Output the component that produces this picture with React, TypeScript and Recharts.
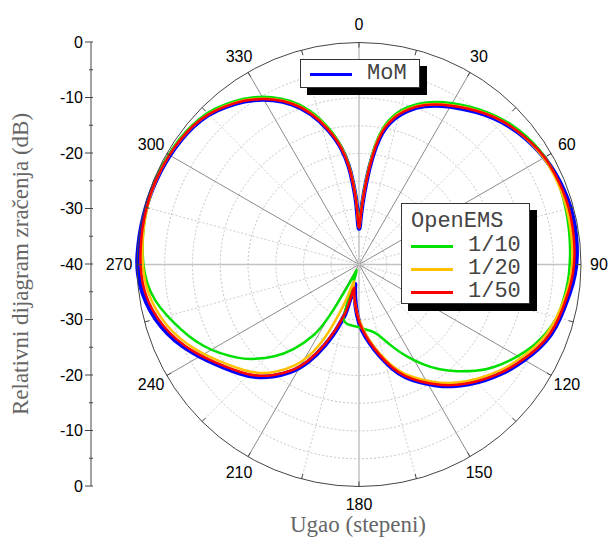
import React from "react"
import {
  RadarChart,
  Radar,
  PolarGrid,
  PolarAngleAxis,
  PolarRadiusAxis,
  Legend,
  LineChart,
  XAxis,
  YAxis,
} from "recharts"

// uglovi u stepenima (gusce oko nula)
const angles = [
  0, 2, 4, 6, 8, 10, 12,
  15, 20, 25, 30, 35, 40, 45, 50, 55, 60, 65, 70, 75, 80, 85, 90,
  95, 100, 105, 110, 115, 120, 125, 130, 135, 140, 145, 150, 155, 160, 165, 170, 175, 180, 185, 190,
  192, 195, 197, 200,
  205, 210, 215, 220, 225, 230, 235, 240, 245, 250, 255, 260, 265, 270, 275, 280, 285, 290, 295, 300,
  305, 310, 315, 320, 325, 330, 335, 340, 345, 350,
  353, 355, 357, 358, 360,
]

const mom = [
  -34.5, -31, -27, -22.5, -18.5, -15.7, -14.0,
  -12.0, -9.8, -8.3, -7.1, -5.9, -4.7, -3.6, -2.7, -2.0, -1.4, -1.0, -0.7, -0.5, -0.5, -0.6, -0.8,
  -1.3, -2.0, -2.5, -3.1, -4.2, -5.6, -6.9, -8.4, -9.9, -11.5, -13.2, -15.1, -17.0, -19.0, -21.8, -24.5, -27.0, -29.3, -32.5, -35.5,
  -37, -31, -29.5, -26.5,
  -22, -18.3, -15.7, -13.4, -11.6, -10.2, -8.6, -6.8, -5.0, -3.3, -2.0, -1.0, -0.3, 0, -0.1, -0.15, -0.25, -0.3, -0.45, -0.6,
  -0.8, -1.1, -1.7, -2.8, -4.0, -5.6, -7.5, -9.9, -13.2, -17.3,
  -20.5, -23.5, -27.5, -30, -34.5,
]

const oem10 = [
  -34.0, -30.3, -26.2, -21.6, -17.6, -14.9, -13.2,
  -11.2, -9.1, -7.6, -6.4, -5.2, -4.1, -3.1, -2.3, -1.7, -1.2, -1.1, -1.2, -1.4, -1.6, -1.8, -2.0,
  -2.2, -2.6, -3.0, -4.0, -5.3, -6.9, -8.6, -10.4, -12.7, -15.0, -17.3, -20.0, -22.5, -25.0, -27.0, -27.9, -28.3, -28.7, -28.9, -29.0,
  -29.1, -29.5, -30.2, -40,
  -37, -27, -22.5, -18.9, -16.1, -13.4, -11.3, -9.2, -7.4, -5.8, -4.2, -2.6, -1.6, -1.1, -0.8, -0.6, -0.4, -0.3, -0.3, -0.35,
  -0.5, -0.8, -1.3, -2.3, -3.5, -5.0, -6.9, -9.3, -12.6, -16.8,
  -20.0, -23.0, -27.0, -29.4, -34.0,
]

const oem20 = [
  -34.3, -30.7, -26.6, -22.0, -18.0, -15.3, -13.6,
  -11.6, -9.5, -8.0, -6.8, -5.6, -4.4, -3.4, -2.6, -2.0, -1.5, -1.3, -1.2, -1.2, -1.3, -1.4, -1.5,
  -1.9, -2.5, -3.1, -3.8, -4.9, -6.3, -7.6, -9.1, -10.6, -12.2, -13.9, -15.8, -17.7, -19.7, -22.4, -25.0, -27.5, -30.0, -32.5, -34.5,
  -35.2, -36.3, -37.2, -32,
  -24.5, -19.8, -16.9, -14.4, -12.5, -11.1, -9.5, -7.7, -5.9, -4.3, -3.0, -2.0, -1.3, -1.0, -0.8, -0.6, -0.45, -0.35, -0.4, -0.5,
  -0.7, -1.0, -1.6, -2.6, -3.8, -5.4, -7.3, -9.7, -13.0, -17.1,
  -20.3, -23.3, -27.2, -29.6, -34.3,
]

const oem50 = [
  -34.3, -30.8, -26.8, -22.3, -18.3, -15.5, -13.8,
  -11.8, -9.6, -8.1, -6.9, -5.7, -4.5, -3.4, -2.6, -1.9, -1.3, -1.1, -0.9, -0.8, -0.9, -1.0, -1.2,
  -1.6, -2.2, -2.7, -3.3, -4.4, -5.8, -7.1, -8.6, -10.1, -11.7, -13.4, -15.3, -17.2, -19.2, -22.0, -24.7, -27.2, -29.5, -32.5, -34.8,
  -36.3, -31.5, -30, -27,
  -22.4, -18.6, -16.0, -13.7, -11.9, -10.5, -8.9, -7.1, -5.3, -3.7, -2.4, -1.4, -0.8, -0.6, -0.5, -0.4, -0.35, -0.3, -0.4, -0.5,
  -0.7, -1.0, -1.6, -2.7, -3.9, -5.5, -7.4, -9.8, -13.1, -17.2,
  -20.4, -23.4, -27.4, -29.8, -34.3,
]

const angleTicks = [0, 30, 60, 90, 120, 150, 180, 210, 240, 270, 300, 330]
const minorTicks = [0, 15, 30, 45, 60, 75, 90, 105, 120, 135, 150, 165, 180, 195, 210, 225, 240, 255, 270, 285, 300, 315, 330, 345]
const cardinalSpokes = [0, 90, 180, 270]
const diagonalSpokes = [30, 60, 120, 150, 210, 240, 300, 330]
const halfSpokes = [15, 45, 75, 105, 135, 165, 195, 225, 255, 285, 315, 345]
const ringTicks = [-35, -30, -25, -20, -15, -10, -5]
const leftTicks = [-40, -35, -30, -25, -20, -15, -10, -5, 0, 5, 10, 15, 20, 25, 30, 35, 40]

const data = angles.map((a, i) => ({
  angle: a,
  mom: mom[i],
  oem10: oem10[i],
  oem20: oem20[i],
  oem50: oem50[i],
}))

const leftData = leftTicks.map((v) => ({ v }))

const sans = "'Liberation Sans', Arial, sans-serif"
const serif = "'Liberation Serif', 'Times New Roman', serif"
const mono = "'Liberation Mono', 'Courier New', monospace"

const AngleTick = ({ x, y, payload }: any) => (
  <text x={x} y={y} textAnchor="middle" dominantBaseline="central" fontSize={16} fontFamily={sans} fill="#000">
    {payload.value}
  </text>
)

const LeftTick = ({ x, y, payload }: any) => {
  const major = payload.value % 10 === 0
  return (
    <g>
      <line x1={x + (major ? 2 : 6)} x2={x + 10} y1={y} y2={y} stroke="#444" />
      {major && (
        <text x={x} y={y} textAnchor="end" dominantBaseline="central" fontSize={16} fontFamily={sans} fill="#000">
          {Math.abs(payload.value) - 40}
        </text>
      )}
    </g>
  )
}

// zaobljena zatvorena kriva kroz tacke koje daje Radar
const SmoothLoop = (props: any) => {
  const pts = (props.points || []).filter((p: any) => Number.isFinite(p.x) && Number.isFinite(p.y))
  if (pts.length < 3) return null
  const ring = pts.slice()
  const first = ring[0]
  const last = ring[ring.length - 1]
  if (Math.abs(first.x - last.x) < 0.01 && Math.abs(first.y - last.y) < 0.01) ring.pop()
  const n = ring.length
  const mid = (a: any, b: any) => [(a.x + b.x) / 2, (a.y + b.y) / 2]
  const start = mid(ring[n - 1], ring[0])
  let d = `M${start[0]},${start[1]}`
  for (let i = 0; i < n; i++) {
    const p = ring[i]
    const m = mid(p, ring[(i + 1) % n])
    d += ` Q${p.x},${p.y} ${m[0]},${m[1]}`
  }
  d += " Z"
  return <path d={d} fill="none" stroke={props.stroke} strokeWidth={props.strokeWidth} strokeLinejoin="round" />
}

const boxStyle: React.CSSProperties = {
  position: "absolute",
  background: "#fff",
  border: "1px solid #333",
  boxShadow: "7px 7px 0 #000",
  boxSizing: "border-box",
  fontFamily: mono,
  fontSize: 22,
  color: "#444",
}

const LegendRow = ({ color, label, top }: { color: string; label: string; top: number }) => (
  <div style={{ position: "absolute", left: 9, top, height: 24, display: "flex", alignItems: "center" }}>
    <span style={{ width: 42, height: 3, background: color, display: "inline-block" }} />
    <span style={{ marginLeft: 15, lineHeight: "24px" }}>{label}</span>
  </div>
)

const LegendBoxes = ({ payload }: any) => {
  const items = payload || []
  const ref = items.find((p: any) => p.dataKey === "mom")
  const sims = items.filter((p: any) => p.dataKey !== "mom")
  return (
    <div>
      {ref && (
        <div style={{ ...boxStyle, left: 300, top: 59, width: 120, height: 29 }}>
          <LegendRow color={ref.color} label={ref.value} top={2} />
        </div>
      )}
      <div style={{ ...boxStyle, left: 401, top: 203, width: 129, height: 101 }}>
        <div style={{ position: "absolute", left: 9, top: 6, lineHeight: "24px" }}>OpenEMS</div>
        {sims.map((p: any, i: number) => (
          <LegendRow key={p.dataKey} color={p.color} label={p.value} top={30 + i * 23} />
        ))}
      </div>
    </div>
  )
}

export default function App() {
  return (
    <div style={{ position: "absolute", left: 0, top: 0, width: 608, height: 542, background: "#fff" }}>
      <div style={{ position: "absolute", left: 0, top: 0 }}>
        <LineChart width={100} height={542} data={leftData} margin={{ top: 42, right: 9, bottom: 56, left: 0 }}>
          <XAxis hide />
          <YAxis
            dataKey="v"
            type="number"
            domain={[-40, 40]}
            allowDataOverflow
            ticks={leftTicks}
            interval={0}
            width={91}
            axisLine={{ stroke: "#444" }}
            tickLine={false}
            tick={<LeftTick />}
            label={({ viewBox }: any) => (
              <text
                x={27.5}
                y={viewBox.y + viewBox.height / 2}
                transform={`rotate(-90, 27.5, ${viewBox.y + viewBox.height / 2})`}
                textAnchor="middle"
                fontSize={23}
                fontFamily={serif}
                fill="#666"
              >
                Relativni dijagram zračenja (dB)
              </text>
            )}
          />
        </LineChart>
      </div>

      <div style={{ position: "absolute", left: 0, top: 0 }}>
        <RadarChart
          width={608}
          height={542}
          data={data}
          cx={359}
          cy={264.5}
          innerRadius={0}
          outerRadius={222}
          startAngle={90}
          endAngle={-270}
          margin={{ top: 0, right: 0, bottom: 0, left: 0 }}
        >
          <PolarGrid gridType="circle" radialLines={false} stroke="#c4c4c4" strokeDasharray="2 2" />
          <PolarGrid gridType="circle" polarRadius={[]} polarAngles={halfSpokes} stroke="#cdcdcd" strokeDasharray="2 2" />
          <PolarGrid gridType="circle" polarRadius={[]} polarAngles={diagonalSpokes} stroke="#8c8c8c" />
          <PolarGrid gridType="circle" polarRadius={[]} polarAngles={cardinalSpokes} stroke="#c2c2c2" strokeWidth={1.5} />
          <PolarRadiusAxis type="number" domain={[-40, 0]} ticks={ringTicks} tick={false} axisLine={false} tickLine={false} />
          <PolarAngleAxis
            dataKey="angle"
            type="number"
            domain={[0, 360]}
            ticks={angleTicks}
            tickSize={18}
            tickLine={false}
            axisLineType="circle"
            axisLine={{ stroke: "#444" }}
            tick={<AngleTick />}
          />
          <PolarAngleAxis
            angleAxisId={1}
            dataKey="angle"
            type="number"
            domain={[0, 360]}
            ticks={minorTicks}
            orientation="inner"
            tickSize={5}
            tick={false}
            tickLine={{ stroke: "#444" }}
            axisLine={false}
          />
          <Radar name="MoM" dataKey="mom" stroke="#0000ff" strokeWidth={4.5} fill="none" dot={false} shape={<SmoothLoop />} isAnimationActive={false} />
          <Radar name="1/10" dataKey="oem10" stroke="#00e000" strokeWidth={2.5} fill="none" dot={false} shape={<SmoothLoop />} isAnimationActive={false} />
          <Radar name="1/20" dataKey="oem20" stroke="#ffc000" strokeWidth={2.5} fill="none" dot={false} shape={<SmoothLoop />} isAnimationActive={false} />
          <Radar name="1/50" dataKey="oem50" stroke="#ff0000" strokeWidth={2.5} fill="none" dot={false} shape={<SmoothLoop />} isAnimationActive={false} />
          <Legend
            content={<LegendBoxes />}
            wrapperStyle={{ position: "absolute", left: 0, top: 0, bottom: "auto", width: 0, height: 0, overflow: "visible" }}
          />
        </RadarChart>
      </div>

      <div
        style={{
          position: "absolute",
          left: 258,
          top: 513,
          width: 200,
          textAlign: "center",
          fontFamily: serif,
          fontSize: 23,
          lineHeight: "23px",
          color: "#666",
        }}
      >
        Ugao (stepeni)
      </div>
    </div>
  )
}
